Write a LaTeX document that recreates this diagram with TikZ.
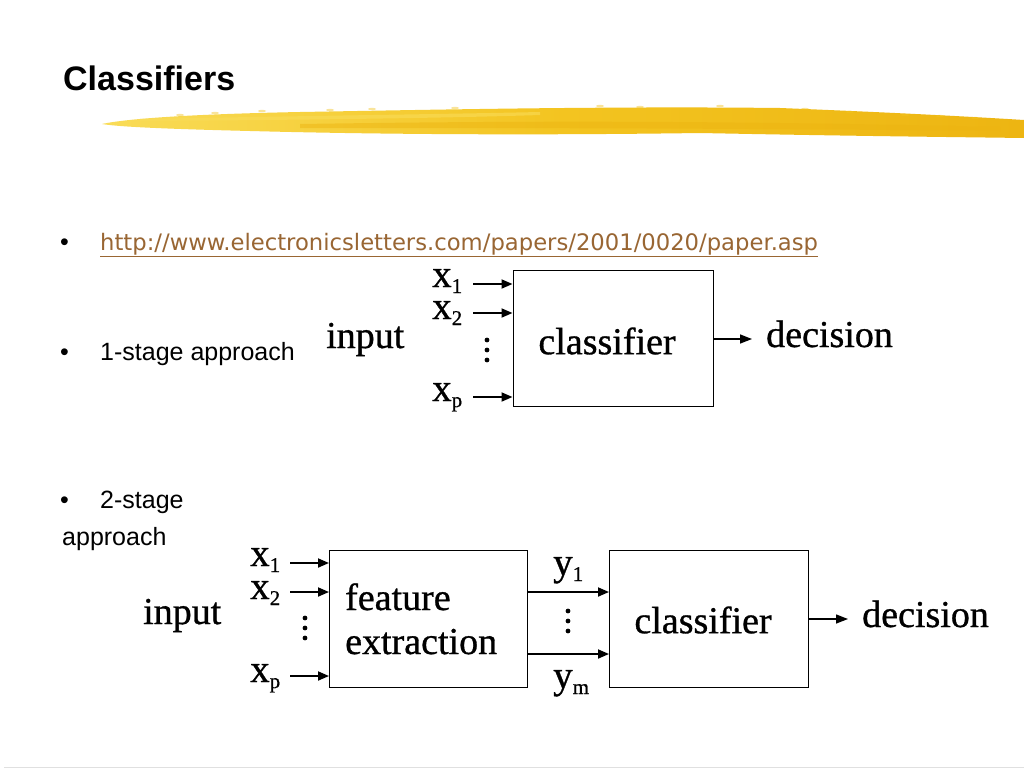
\documentclass[tikz,border=0pt]{standalone}
\usepackage{fontspec}
\setmainfont{Liberation Serif}
\newfontfamily\diagf[FakeBold=0.8]{Liberation Serif}
\newfontfamily\arialf{Liberation Sans}
\newfontfamily\verdf{DejaVu Sans}
\usetikzlibrary{arrows.meta}
\definecolor{linkbrown}{HTML}{996633}
\definecolor{brushA}{HTML}{F9DC58}
\definecolor{brushB}{HTML}{F3C420}
\definecolor{brushC}{HTML}{EDB512}
\begin{document}
\begin{tikzpicture}[x=1pt,y=-1pt,
  blk/.style={draw=black,line width=1.4pt,inner sep=0pt},
  lbl/.style={font=\diagf\fontsize{38}{40}\selectfont,inner sep=0pt},
  varl/.style={font=\diagf\fontsize{39}{40}\selectfont,inner sep=0pt,anchor=base west,text height=18pt,text depth=7pt},
  arr/.style={line width=1.8pt,-{Triangle[length=11pt,width=9pt]}},
  slide/.style={font=\arialf\fontsize{25}{28}\selectfont,inner sep=0pt,anchor=base west},
  dotc/.style={fill=black},
  speck/.style={fill=brushB,opacity=0.45}
]
\useasboundingbox (0,0) rectangle (1024,768);
\fill[white] (0,0) rectangle (1024,768);
% title
\node[font=\arialf\bfseries\fontsize{34}{36}\selectfont,inner sep=0pt,anchor=base west] (title) at (63,90) {Classifiers};
% brush stroke
\shade[left color=brushA,right color=brushC,middle color=brushB]
  (102,124) .. controls (130,118) and (200,114) .. (300,112)
  .. controls (420,110) and (600,106) .. (780,108)
  .. controls (880,112) and (960,116) .. (1024,120)
  -- (1024,138)
  .. controls (950,137) and (850,136) .. (700,133)
  .. controls (560,135) and (400,135) .. (250,131)
  .. controls (170,129) and (120,127) .. (102,124) -- cycle;
\fill[brushC,opacity=0.5] (300,124) .. controls (500,121) and (700,120) .. (1000,127) -- (1000,131) .. controls (700,128) and (500,128) .. (300,128) -- cycle;
\fill[brushA,opacity=0.6] (140,119) .. controls (300,116) and (450,114) .. (540,112) -- (540,115) .. controls (450,118) and (300,120) .. (140,121) -- cycle;
\foreach \sx/\sy in {180/115,215/113,262/111,330/110,372/109,455/108,600/106,640/107,720/106,805/109,850/112,905/115,940/116,975/118}
  \fill[speck] (\sx,\sy) ellipse (4pt and 1.2pt);
% bottom rule
\draw[black!12,line width=1pt] (4,767) -- (1024,767);
% bullets
\node[slide] (b1) at (60,250) {\textbullet};
\node[slide,font=\verdf\fontsize{22.7}{26}\selectfont,text=linkbrown] (link) at (100,250) {\underline{http://www.electronicsletters.com/papers/2001/0020/paper.asp}};
\node[slide] (b2) at (60,360) {\textbullet};
\node[slide] (t2) at (100,360) {1-stage approach};
\node[slide] (b3) at (60,508) {\textbullet};
\node[slide] (t3) at (100,508) {2-stage};
\node[slide] (t3b) at (62,545) {approach};

% ---- diagram 1 ----
\node[blk,minimum width=200pt,minimum height=136pt,anchor=north west] (cls1) at (512.5,270) {};
\node[lbl] (cls1t) at (607,341) {classifier};
\node[lbl,anchor=base west] (in1) at (326,348) {input};
\node[varl] (x11) at (432,287) {x\raisebox{-6pt}{\fontsize{21}{21}\selectfont 1}};
\node[varl] (x12) at (432,319) {x\raisebox{-6pt}{\fontsize{21}{21}\selectfont 2}};
\node[varl] (x1p) at (432,401) {x\raisebox{-6pt}{\fontsize{21}{21}\selectfont p}};
\coordinate (a11) at (473,284);
\coordinate (a12) at (473,313);
\coordinate (a1p) at (473,397);
\draw[arr] (a11) -- (a11 -| cls1.west);
\draw[arr] (a12) -- (a12 -| cls1.west);
\draw[arr] (a1p) -- (a1p -| cls1.west);
\fill[dotc] (487,340) circle (2.4pt) (487,350) circle (2.4pt) (487,360) circle (2.4pt);
\node[lbl,anchor=base west] (dec1) at (766,347) {decision};
\draw[line width=1.4pt,-{Triangle[length=12pt,width=9pt]}] (cls1.east |- 0,339) -- (752,339);

% ---- diagram 2 ----
\node[blk,minimum width=198pt,minimum height=137pt,anchor=north west] (fe) at (329,550) {};
\node[blk,minimum width=199pt,minimum height=137pt,anchor=north west] (cls2) at (609,550) {};
\node[lbl,anchor=base west] (fet) at (345,610) {feature};
\node[lbl,anchor=base west] (fet2) at (345,654) {extraction};
\node[lbl] (cls2t) at (703,620) {classifier};
\node[lbl,anchor=base west] (in2) at (143,624) {input};
\node[varl] (x21) at (250,566) {x\raisebox{-6pt}{\fontsize{21}{21}\selectfont 1}};
\node[varl] (x22) at (250,599) {x\raisebox{-6pt}{\fontsize{21}{21}\selectfont 2}};
\node[varl] (x2p) at (250,682) {x\raisebox{-6pt}{\fontsize{21}{21}\selectfont p}};
\coordinate (a21) at (290,563);
\coordinate (a22) at (290,592);
\coordinate (a2p) at (290,676);
\draw[arr] (a21) -- (a21 -| fe.west);
\draw[arr] (a22) -- (a22 -| fe.west);
\draw[arr] (a2p) -- (a2p -| fe.west);
\fill[dotc] (305,618) circle (2.4pt) (305,628) circle (2.4pt) (305,638) circle (2.4pt);
\draw[arr] (fe.east |- 0,592) -- (cls2.west |- 0,592);
\draw[arr] (fe.east |- 0,654) -- (cls2.west |- 0,654);
\fill[dotc] (568,611) circle (2.4pt) (568,621) circle (2.4pt) (568,631) circle (2.4pt);
\node[varl] (y1) at (553,575) {y\raisebox{-6pt}{\fontsize{21}{21}\selectfont 1}};
\node[varl] (ym) at (553,688) {y\raisebox{-6pt}{\fontsize{21}{21}\selectfont m}};
\node[lbl,anchor=base west] (dec2) at (862,627) {decision};
\draw[line width=1.4pt,-{Triangle[length=12pt,width=9pt]}] (cls2.east |- 0,619) -- (848,619);
\end{tikzpicture}
\end{document}
